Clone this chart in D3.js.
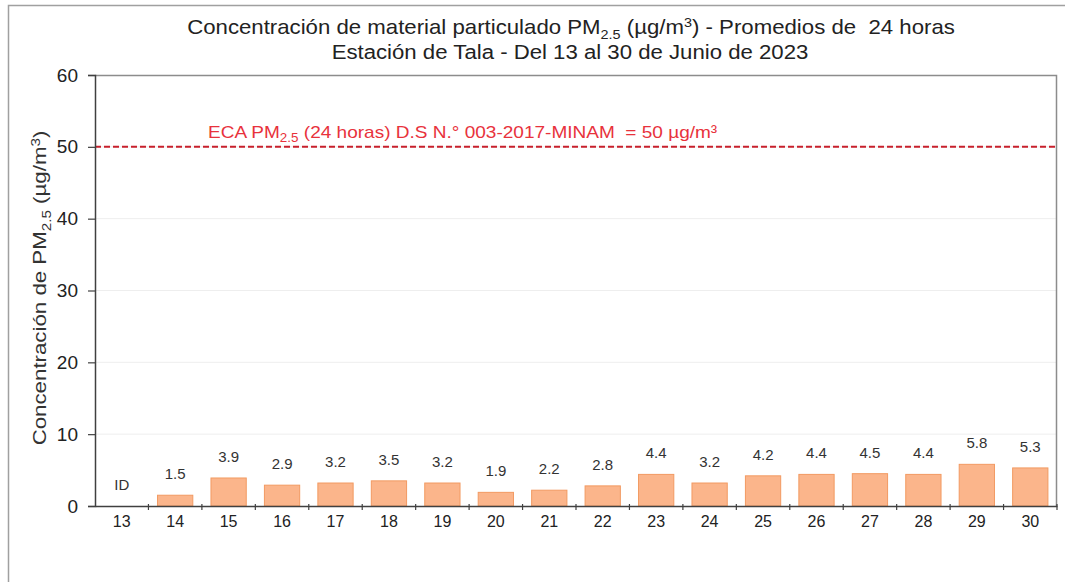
<!DOCTYPE html>
<html>
<head>
<meta charset="utf-8">
<script src="https://cdn.jsdelivr.net/npm/d3@7"></script>
<style>
  body { margin: 0; background: #fff; }
  text { font-family: "Liberation Sans", Arial, sans-serif; white-space: pre; }
</style>
</head>
<body>
<svg id="chart" width="1065" height="582"></svg>
<script>
// days of June 2023
var days = ["13", "14", "15", "16", "17", "18", "19", "20", "21", "22", "23", "24", "25", "26", "27", "28", "29", "30"];
// PM2.5 24h averages (null = ID, insufficient data)
var pm25 = [null, 1.5, 3.9, 2.9, 3.2, 3.5, 3.2, 1.9, 2.2, 2.8, 4.4, 3.2, 4.2, 4.4, 4.5, 4.4, 5.8, 5.3];
var yTicks = [0, 10, 20, 30, 40, 50, 60];
var ecaLimit = 50;

var data = days.map(function (d, i) {
  return { day: d, value: pm25[i] };
});

var svg = d3.select("#chart");
const margin = { top: 75, right: 8, bottom: 76, left: 95 };
const width = 1065, height = 582;

// stretch a text horizontally (the source picture is widened)
function stretch(g, target) {
  var w = g.node().getBBox().width;
  return target / w;
}

// outer frame
svg.append("path")
  .attr("d", "M8.5,582 L8.5,5.5 L1065,5.5")
  .attr("fill", "none")
  .attr("stroke", "#a0a0a0")
  .attr("stroke-width", 1.5);

var x = d3.scaleBand()
  .domain(days)
  .range([margin.left, width - margin.right])
  .paddingInner(0.34)
  .paddingOuter(0.17);

var y = d3.scaleLinear()
  .domain([0, 60])
  .range([height - margin.bottom, margin.top]);

// faint grid
svg.append("g")
  .selectAll("line")
  .data(yTicks.filter(function (t) { return t > 0 && t < 60; }))
  .enter()
  .append("line")
  .attr("x1", margin.left)
  .attr("x2", width - margin.right)
  .attr("y1", function (d) { return y(d); })
  .attr("y2", function (d) { return y(d); })
  .attr("stroke", "#eeeeee")
  .attr("stroke-width", 1);

// plot frame (top & right)
svg.append("path")
  .attr("d", `M${margin.left},${margin.top + 0.5} L${width - margin.right - 0.5},${margin.top + 0.5} L${width - margin.right - 0.5},${y(0)}`)
  .attr("fill", "none")
  .attr("stroke", "#8c8c8c")
  .attr("stroke-width", 1.5);

// bars
svg.append("g")
  .selectAll("rect")
  .data(data.filter(function (d) { return d.value != null; }))
  .enter()
  .append("rect")
  .attr("x", function (d) { return x(d.day); })
  .attr("y", function (d) { return y(d.value); })
  .attr("width", x.bandwidth())
  .attr("height", function (d) { return y(0) - y(d.value); })
  .attr("fill", "#fbb58b")
  .attr("stroke", "#f29a62")
  .attr("stroke-width", 1);

// value labels
svg.append("g")
  .selectAll("text")
  .data(data)
  .enter()
  .append("text")
  .attr("x", function (d) { return x(d.day) + x.bandwidth() / 2; })
  .attr("y", function (d) { return y(d.value == null ? 0 : d.value) - 16; })
  .attr("text-anchor", "middle")
  .attr("font-size", "15px")
  .attr("fill", "#333")
  .text(function (d) { return d.value == null ? "ID" : d.value.toFixed(1); });

// ECA line
svg.append("line")
  .attr("x1", margin.left)
  .attr("x2", width - margin.right)
  .attr("y1", y(ecaLimit))
  .attr("y2", y(ecaLimit))
  .attr("stroke", "#c8202c")
  .attr("stroke-width", 2)
  .attr("stroke-dasharray", "6,3");

var ecaG = svg.append("g");
var eca = ecaG.append("text")
  .attr("font-size", "17px")
  .attr("fill", "#e8323c");
eca.append("tspan").text("ECA PM");
eca.append("tspan").attr("font-size", "12px").attr("dy", 4).text("2.5");
eca.append("tspan").attr("dy", -4).text(" (24 horas) D.S N.° 003-2017-MINAM  = 50 µg/m³");
ecaG.attr("transform", `translate(208,${y(ecaLimit) - 9}) scale(${stretch(ecaG, 510)},1)`);

// y axis
svg.append("g")
  .attr("transform", `translate(${margin.left},0)`)
  .call(d3.axisLeft(y).tickValues(yTicks).tickSize(7).tickPadding(10))
  .call(function (g) {
    g.select(".domain").attr("stroke", "#404040").attr("stroke-width", 1.5);
    g.selectAll(".tick line").attr("stroke", "#404040").attr("stroke-width", 1.2);
    g.selectAll("text").attr("font-size", "19px").attr("fill", "#222")
      .style("font-family", "Liberation Sans, Arial, sans-serif");
  });

// x axis
var xAxis = svg.append("g")
  .attr("transform", `translate(0,${y(0)})`)
  .call(d3.axisBottom(x).tickSize(0).tickPadding(10))
  .call(function (g) {
    g.select(".domain").attr("stroke", "#404040").attr("stroke-width", 1.5);
    g.selectAll("text").attr("font-size", "16px").attr("fill", "#222")
      .style("font-family", "Liberation Sans, Arial, sans-serif");
  });

// ticks between categories
var step = x.step();
var x0 = x(days[0]) - x.paddingOuter() * step;
xAxis.selectAll(".sep")
  .data(days)
  .enter()
  .append("line")
  .attr("x1", function (d, i) { return x0 + step * (i + 1); })
  .attr("x2", function (d, i) { return x0 + step * (i + 1); })
  .attr("y1", -2)
  .attr("y2", 4)
  .attr("stroke", "#404040")
  .attr("stroke-width", 1.2);

// y axis title
var ytG = svg.append("g");
var yt = ytG.append("text")
  .attr("text-anchor", "middle")
  .attr("font-size", "19px")
  .attr("fill", "#333");
yt.append("tspan").text("Concentración de PM");
yt.append("tspan").attr("font-size", "13px").attr("dy", 5).text("2.5");
yt.append("tspan").attr("dy", -5).text(" (µg/m");
yt.append("tspan").attr("font-size", "13px").attr("dy", -6).text("3");
yt.append("tspan").attr("dy", 6).text(")");
ytG.attr("transform", `translate(46,288) rotate(-90) scale(${stretch(ytG, 315)},1)`);

// title
var t1G = svg.append("g");
var t1 = t1G.append("text")
  .attr("text-anchor", "middle")
  .attr("font-size", "20px")
  .attr("fill", "#222");
t1.append("tspan").text("Concentración de material particulado PM");
t1.append("tspan").attr("font-size", "13px").attr("dy", 5).text("2.5");
t1.append("tspan").attr("dy", -5).text(" (µg/m");
t1.append("tspan").attr("font-size", "13px").attr("dy", -7).text("3");
t1.append("tspan").attr("dy", 7).text(") - Promedios de  24 horas");
t1G.attr("transform", `translate(571,34) scale(${stretch(t1G, 768)},1)`);

var t2G = svg.append("g");
t2G.append("text")
  .attr("text-anchor", "middle")
  .attr("font-size", "20px")
  .attr("fill", "#222")
  .text("Estación de Tala - Del 13 al 30 de Junio de 2023");
t2G.attr("transform", `translate(570,59) scale(${stretch(t2G, 477)},1)`);
</script>
</body>
</html>
